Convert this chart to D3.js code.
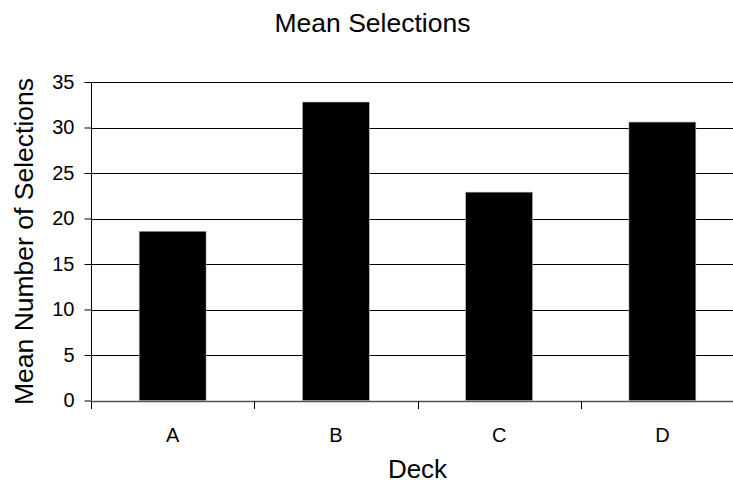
<!DOCTYPE html>
<html><head><meta charset="utf-8">
<script src="https://cdn.jsdelivr.net/npm/d3@7"></script>
<style>body{margin:0;background:#fff}svg{display:block}text{font-family:"Liberation Sans",Arial,sans-serif;fill:#000}</style>
</head><body><div id="chart"></div>
<script>
const categories = ["A","B","C","D"];
const meanSelections = [18.6, 32.8, 22.9, 30.6];
const yTicks = [0,5,10,15,20,25,30,35];
const titleText = "Mean Selections";
const xTitle = "Deck";
const yTitle = "Mean Number of Selections";

const W = 733, H = 484;
const m = {left:91, top:82, right:-11, bottom:83.5};
const svg = d3.select("#chart").append("svg").attr("width",W).attr("height",H);
const x = d3.scaleBand().domain(categories).range([m.left, W - m.right]).paddingInner(0).paddingOuter(0);
const y = d3.scaleLinear().domain([0,35]).range([H - m.bottom, m.top]);

// gridlines
svg.append("g").selectAll("line").data(yTicks.filter(d=>d>0)).join("line")
  .attr("x1", m.left).attr("x2", W - m.right)
  .attr("y1", d=>Math.round(y(d))+0.5).attr("y2", d=>Math.round(y(d))+0.5)
  .attr("stroke","#000").attr("stroke-width",1);

// bars
const bw = x.bandwidth()*0.41;
svg.append("g").selectAll("rect").data(categories).join("rect")
  .attr("x", d=>x(d)+x.bandwidth()/2 - bw/2)
  .attr("width", bw)
  .attr("y", (d,i)=>y(meanSelections[i]))
  .attr("height", (d,i)=>y(0)-y(meanSelections[i]))
  .attr("fill","#000").attr("stroke","#bbb").attr("stroke-width",0.6);

// y axis
const yAxis = d3.axisLeft(y).tickValues(yTicks).tickSize(7).tickPadding(10).tickFormat(d3.format("d"));
const gy = svg.append("g").attr("transform",`translate(${m.left+0.5},0)`).call(yAxis);
gy.select(".domain").attr("d",`M0,${y(35)}V${y(0)}`).attr("stroke","#000");
gy.selectAll(".tick line").attr("stroke","#000");
gy.selectAll(".tick text").attr("font-size",20).attr("font-family","Liberation Sans, Arial, sans-serif").attr("fill","#000");

// x axis
const xAxis = d3.axisBottom(x).tickSize(0).tickPadding(26);
const gx = svg.append("g").attr("transform",`translate(0,${Math.round(y(0))+0.5})`).call(xAxis);
gx.select(".domain").attr("d",`M${m.left},0H${W - m.right}`).attr("stroke","#555").attr("stroke-width",1.5);
gx.selectAll(".tick text").attr("font-size",20).attr("font-family","Liberation Sans, Arial, sans-serif").attr("fill","#000");
// category boundary ticks
svg.append("g").selectAll("line").data(categories).join("line")
  .attr("x1", d=>Math.round(x(d))+0.5).attr("x2", d=>Math.round(x(d))+0.5)
  .attr("y1", Math.round(y(0))).attr("y2", Math.round(y(0))+8)
  .attr("stroke","#000");

svg.append("text").attr("x",372.5).attr("y",32).attr("text-anchor","middle").attr("font-size",26.5).text(titleText);
svg.append("text").attr("x",417.5).attr("y",478).attr("text-anchor","middle").attr("font-size",26).text(xTitle);
svg.append("text").attr("transform",`translate(33,241.5) rotate(-90)`).attr("text-anchor","middle").attr("font-size",26.5).text(yTitle);
</script></body></html>
